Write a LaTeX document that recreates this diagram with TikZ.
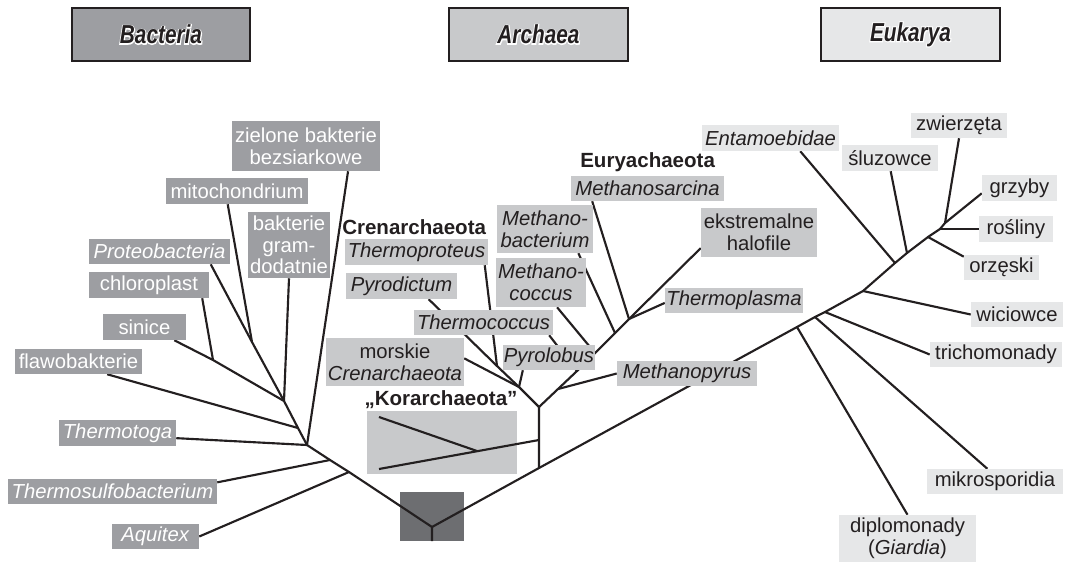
\documentclass[tikz,border=0pt]{standalone}
\usepackage{fontspec}
\setmainfont{Liberation Sans}
\newfontface\headface{Liberation Sans Bold Italic}[FakeStretch=0.8]
\newfontface\haloface{Liberation Sans Bold Italic}[FakeStretch=0.8, FakeBold=8]
\usetikzlibrary{shadows}

\definecolor{linecol}{RGB}{35,31,32}
\definecolor{bacgray}{RGB}{157,158,162}
\definecolor{arcgray}{RGB}{200,201,203}
\definecolor{eukgray}{RGB}{230,231,232}
\definecolor{rootgray}{RGB}{109,110,113}

\pgfdeclarelayer{background}
\pgfsetlayers{background,main}

% 标题文字：白色描边
\newcommand{\halo}[1]{\leavevmode
  \rlap{\textcolor{white}{\haloface\fontsize{19.5}{22}\selectfont #1}}%
  {\headface\fontsize{19.5}{22}\selectfont #1}}

\begin{document}
\begin{tikzpicture}[x=0.75pt, y=-0.75pt,
  sz/.style 2 args={minimum width=#1*0.75pt, minimum height=#2*0.75pt},
  branch/.style={line width=1.6pt, draw=linecol, line join=round},
  lbl/.style={inner xsep=1pt, inner ysep=0.5pt, align=center,
    font=\fontsize{15.2}{16.3}\selectfont},
  bacbox/.style={lbl, fill=bacgray, text=white},
  arcbox/.style={lbl, fill=arcgray, text=linecol},
  eukbox/.style={lbl, fill=eukgray, text=linecol},
  clade/.style={inner sep=0pt, text=linecol,
    font=\bfseries\fontsize{15.4}{17}\selectfont},
  headbox/.style={draw=linecol, line width=0.8pt, text=linecol,
    drop shadow={shadow xshift=0.9pt, shadow yshift=-0.9pt, opacity=1, fill=linecol}}]
  \useasboundingbox (0,0) rectangle (1065,562);

  % 三个域
  \node[headbox, fill=bacgray, sz={178}{53}] (bacH) at (161,34.5) {\halo{Bacteria}};
  \node[headbox, fill=arcgray, sz={179}{53}] (arcH) at (538.5,34.5) {\halo{Archaea}};
  \node[headbox, fill=eukgray, sz={179}{53}] (eukH) at (910.5,34.5) {\halo{Eukarya}};

  % 细菌
  \node[bacbox, sz={148}{50}] (zielone) at (306,146) {zielone bakterie\\bezsiarkowe};
  \node[bacbox, sz={142}{26}] (mito) at (237,191) {mitochondrium};
  \node[bacbox, sz={82}{66}] (gram) at (289,245) {bakterie\\gram-\\dodatnie};
  \node[bacbox, sz={141}{25}] (proteo) at (159.5,251.5) {\textit{Proteobacteria}};
  \node[bacbox, sz={120}{26}] (chloro) at (149,285) {chloroplast};
  \node[bacbox, sz={83}{26}] (sinice) at (144.5,327) {sinice};
  \node[bacbox, sz={127}{25}] (flawo) at (78.5,361.5) {flawobakterie};
  \node[bacbox, sz={117}{26}] (thermotoga) at (117.5,433) {\textit{Thermotoga}};
  \node[bacbox, sz={209}{25}] (thermosulfo) at (112.5,491.5) {\textit{Thermosulfobacterium}};
  \node[bacbox, sz={87}{25}] (aquitex) at (155.5,536.5) {\textit{Aquitex}};

  % 古菌
  \node[clade, anchor=west] (crenT) at (342,227) {Crenarchaeota};
  \node[arcbox, sz={143}{26}] (thermoproteus) at (416.5,252) {\textit{Thermoproteus}};
  \node[arcbox, sz={111}{26}] (pyrodictum) at (401.5,286) {\textit{Pyrodictum}};
  \node[arcbox, sz={139}{25}] (thermococcus) at (483.5,322.5) {\textit{Thermococcus}};
  \node[arcbox, sz={138}{48}] (morskie) at (395,362) {morskie\\\textit{Crenarchaeota}};
  \node[arcbox, sz={92}{25}] (pyrolobus) at (549,357.5) {\textit{Pyrolobus}};
  \node[clade] (koraT) at (441,400) {„Korarchaeota”};
  \node[clade, anchor=west] (euryT) at (580,162) {Euryachaeota};
  \node[arcbox, sz={153}{25}] (sarcina) at (647.5,188.5) {\textit{Methanosarcina}};
  \node[arcbox, sz={96}{48}] (mbact) at (545,229) {\textit{Methano-}\\\textit{bacterium}};
  \node[arcbox, sz={90}{49}] (mcocc) at (541,282.5) {\textit{Methano-}\\\textit{coccus}};
  \node[arcbox, sz={116}{49}] (halofile) at (759,232.5) {ekstremalne\\halofile};
  \node[arcbox, sz={138}{25}] (thermoplasma) at (734,300.5) {\textit{Thermoplasma}};
  \node[arcbox, sz={140}{25}] (mpyrus) at (687,373.5) {\textit{Methanopyrus}};

  % 真核生物
  \node[eukbox, sz={137}{26}] (entamo) at (770.5,138) {\textit{Entamoebidae}};
  \node[eukbox, sz={96}{26}] (sluz) at (890,158) {śluzowce};
  \node[eukbox, sz={96}{25}] (zwierz) at (959,125.5) {zwierzęta};
  \node[eukbox, sz={75}{26}] (grzyby) at (1019.5,188) {grzyby};
  \node[eukbox, sz={74}{26}] (rosliny) at (1016,229) {rośliny};
  \node[eukbox, sz={75}{25}] (orzeski) at (1001.5,267.5) {orzęski};
  \node[eukbox, sz={92}{25}] (wici) at (1017,314.5) {wiciowce};
  \node[eukbox, sz={132}{25}] (tricho) at (996,354.5) {trichomonady};
  \node[eukbox, sz={136}{25}] (mikro) at (995,481.5) {mikrosporidia};
  \node[eukbox, sz={137}{47}] (diplo) at (907.5,538.5) {diplomonady\\(\textit{Giardia})};

  % 分支点
  \coordinate (R) at (432,527);
  \coordinate (Rb) at (432,541);
  \coordinate (J1) at (213,360);
  \coordinate (J2) at (252,342);
  \coordinate (J3) at (284,401);
  \coordinate (J4) at (298,428);
  \coordinate (J5) at (307,445);
  \coordinate (J6) at (330,460);
  \coordinate (J7) at (349,472);
  \coordinate (T1) at (539,468);
  \coordinate (K1) at (539,440);
  \coordinate (K2) at (477,451);
  \coordinate (Ka) at (379,469);
  \coordinate (Kb) at (379,417);
  \coordinate (A) at (539,407);
  \coordinate (C1) at (519,387);
  \coordinate (Cp) at (497,366);
  \coordinate (E1) at (558,389);
  \coordinate (E2) at (577,371);
  \coordinate (E3) at (595,353);
  \coordinate (E4) at (615,333);
  \coordinate (E5) at (629,319);
  \coordinate (D) at (797,327);
  \coordinate (M) at (815,317);
  \coordinate (Tr) at (825,312);
  \coordinate (W) at (863,291);
  \coordinate (En) at (895,263);
  \coordinate (S) at (907,253);
  \coordinate (O) at (928,237);
  \coordinate (Ro) at (940,229);
  \coordinate (Z) at (945,223);

  \begin{pgfonlayer}{background}
  \begin{scope}[branch]
    \node[fill=rootgray, sz={64}{49}, inner sep=0pt] (rootbox) at (432,516.5) {};
    \node[fill=arcgray, sz={150}{63}, inner sep=0pt] (korabox) at (442,442.5) {};
    % 细菌分支
    \draw (Rb) -- (R) -- (J7) -- (J6) -- (J5) -- (J4) -- (J3);
    \draw (J7) -- (aquitex.east);
    \draw (J6) -- (thermosulfo.5);
    \draw (J5) -- (thermotoga.-5);
    \draw (J5) -- (zielone.-31);
    \draw (J4) -- (flawo.-24);
    \draw (J3) -- (gram.south);
    \draw (J3) -- (J2) -- (mito.-125);
    \draw (J2) -- (proteo.-14.5);
    \draw (J3) -- (J1) -- (chloro.-14.6);
    \draw (J1) -- (sinice.-24.5);
    % 古菌分支
    \draw (R) -- (T1) -- (K1) -- (A);
    \draw (K1) -- (Ka);
    \draw (K2) -- (Kb);
    \draw (A) -- (C1) -- (Cp) -- (pyrodictum.-26);
    \draw (Cp) -- (thermoproteus.-11);
    \draw (C1) -- (morskie.3);
    \draw (C1) -- (pyrolobus.-154);
    \draw (A) -- (E1) -- (E2) -- (E3) -- (E4) -- (E5) -- (halofile.-165);
    \draw (E1) -- (mpyrus.west);
    \draw (E2) -- (thermococcus.-11);
    \draw (E3) -- (mcocc.-57);
    \draw (E4) -- (mbact.-36);
    \draw (E5) -- (sarcina.-167);
    \draw (E5) -- (thermoplasma.-178);
    % 真核分支
    \draw (T1) -- (D) -- (M) -- (Tr) -- (W) -- (En) -- (S) -- (O) -- (Ro) -- (Z) -- (grzyby.-172);
    \draw (D) -- (diplo.north);
    \draw (M) -- (mikro.121);
    \draw (Tr) -- (tricho.west);
    \draw (W) -- (wici.west);
    \draw (En) -- (entamo.-24);
    \draw (S) -- (sluz.-87);
    \draw (O) -- (orzeski.164);
    \draw (Ro) -- (rosliny.west);
    \draw (Z) -- (zwierz.south);
  \end{scope}
  \end{pgfonlayer}
\end{tikzpicture}
\end{document}
